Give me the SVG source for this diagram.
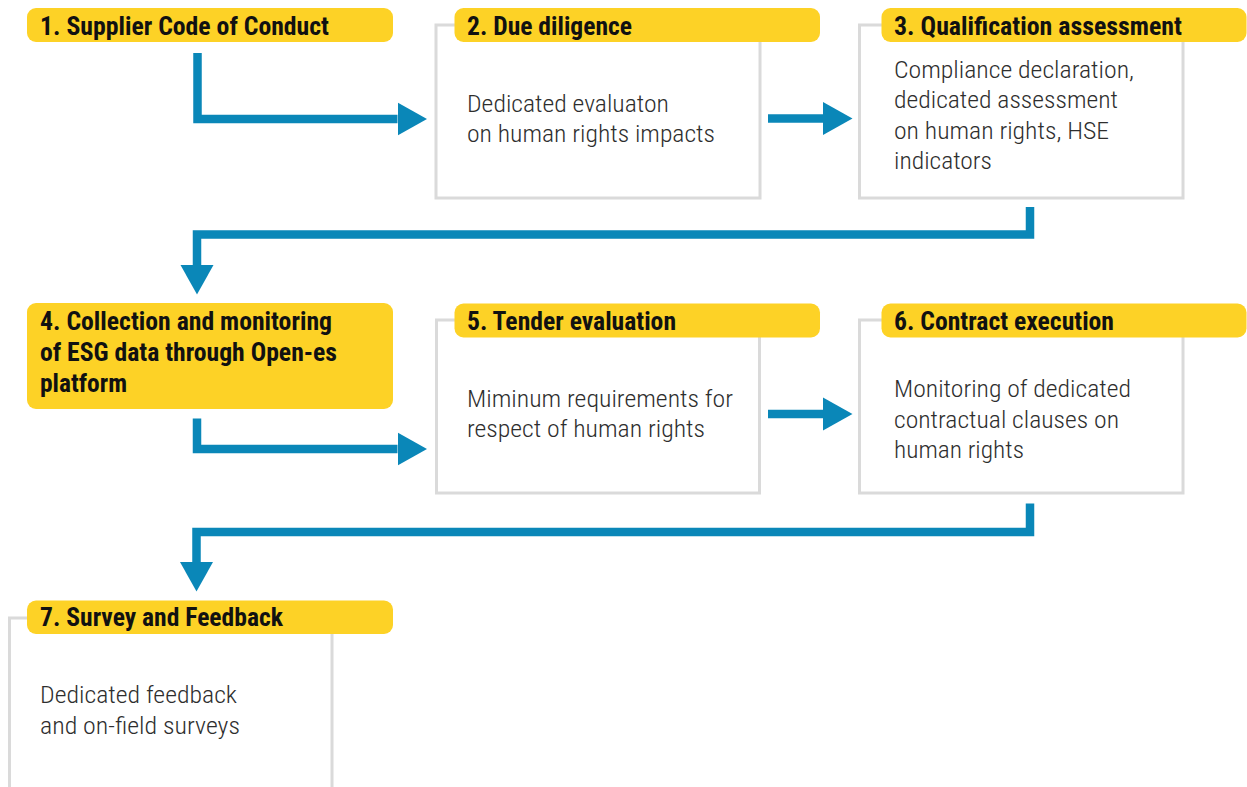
<svg xmlns="http://www.w3.org/2000/svg" width="1247" height="787" viewBox="0 0 1247 787">
  <style>
    .box { fill: #ffffff; stroke: #dadada; stroke-width: 3; }
    .hdr { fill: #fdd226; }
    .ht { font-family: "Roboto Condensed", Roboto, "Liberation Sans", sans-serif; font-weight: 700; font-size: 25px; fill: #111111; }
    .bt { font-family: "Roboto Condensed", Roboto, "Liberation Sans", sans-serif; font-weight: 300; font-size: 24px; fill: #2e2e2e; }
    .conn { fill: none; stroke: #0a87b8; stroke-width: 8.5; stroke-linejoin: miter; stroke-linecap: butt; }
  </style>
  <defs>
    <marker id="arrow" markerUnits="userSpaceOnUse" markerWidth="30" markerHeight="34" refX="0" refY="16.5" orient="auto" viewBox="0 0 30 33">
      <path d="M0,0 L29.5,16.5 L0,33 Z" fill="#0a87b8"/>
    </marker>
  </defs>
  <rect width="1247" height="787" fill="#ffffff"/>

  <g id="node1">
    <rect class="hdr" x="27" y="8" width="366" height="34" rx="9"/>
    <text class="ht" x="40" y="35" textLength="289" lengthAdjust="spacingAndGlyphs">1. Supplier Code of Conduct</text>
  </g>

  <g id="node2">
    <rect class="box" x="436" y="25" width="324" height="173"/>
    <rect class="hdr" x="454.5" y="8" width="365.5" height="34" rx="9"/>
    <text class="ht" x="467" y="35" textLength="165" lengthAdjust="spacingAndGlyphs">2. Due diligence</text>
    <text class="bt" x="467" y="112" textLength="202" lengthAdjust="spacingAndGlyphs">Dedicated evaluaton</text>
    <text class="bt" x="467" y="142" textLength="248" lengthAdjust="spacingAndGlyphs">on human rights impacts</text>
  </g>

  <g id="node3">
    <rect class="box" x="859.5" y="25" width="323.5" height="173"/>
    <rect class="hdr" x="881.5" y="8" width="365" height="34" rx="9"/>
    <text class="ht" x="894" y="35" textLength="288" lengthAdjust="spacingAndGlyphs">3. Qualification assessment</text>
    <text class="bt" x="894" y="78" textLength="240" lengthAdjust="spacingAndGlyphs">Compliance declaration,</text>
    <text class="bt" x="894" y="108" textLength="224" lengthAdjust="spacingAndGlyphs">dedicated assessment</text>
    <text class="bt" x="894" y="139" textLength="215" lengthAdjust="spacingAndGlyphs">on human rights, HSE</text>
    <text class="bt" x="894" y="169" textLength="98" lengthAdjust="spacingAndGlyphs">indicators</text>
  </g>

  <g id="node4">
    <rect class="hdr" x="27" y="303" width="366" height="106" rx="9"/>
    <text class="ht" x="40" y="330" textLength="292" lengthAdjust="spacingAndGlyphs">4. Collection and monitoring</text>
    <text class="ht" x="40" y="361" textLength="297" lengthAdjust="spacingAndGlyphs">of ESG data through Open-es</text>
    <text class="ht" x="40" y="392" textLength="87" lengthAdjust="spacingAndGlyphs">platform</text>
  </g>

  <g id="node5">
    <rect class="box" x="436.5" y="320" width="323" height="173"/>
    <rect class="hdr" x="454.5" y="303.5" width="365.5" height="34" rx="9"/>
    <text class="ht" x="467" y="329.5" textLength="209" lengthAdjust="spacingAndGlyphs">5. Tender evaluation</text>
    <text class="bt" x="467" y="406.5" textLength="266" lengthAdjust="spacingAndGlyphs">Miminum requirements for</text>
    <text class="bt" x="467" y="437" textLength="238" lengthAdjust="spacingAndGlyphs">respect of human rights</text>
  </g>

  <g id="node6">
    <rect class="box" x="859.5" y="320" width="323.5" height="173"/>
    <rect class="hdr" x="881.5" y="303.5" width="365" height="34" rx="9"/>
    <text class="ht" x="894" y="329.5" textLength="220" lengthAdjust="spacingAndGlyphs">6. Contract execution</text>
    <text class="bt" x="894" y="397" textLength="237" lengthAdjust="spacingAndGlyphs">Monitoring of dedicated</text>
    <text class="bt" x="894" y="427.5" textLength="225" lengthAdjust="spacingAndGlyphs">contractual clauses on</text>
    <text class="bt" x="894" y="458" textLength="130" lengthAdjust="spacingAndGlyphs">human rights</text>
  </g>

  <g id="node7">
    <rect class="box" x="9.5" y="618" width="322.5" height="190"/>
    <rect class="hdr" x="27" y="600.5" width="366" height="33.5" rx="9"/>
    <text class="ht" x="40" y="626" textLength="243" lengthAdjust="spacingAndGlyphs">7. Survey and Feedback</text>
    <text class="bt" x="40" y="703" textLength="197" lengthAdjust="spacingAndGlyphs">Dedicated feedback</text>
    <text class="bt" x="40" y="734" textLength="200" lengthAdjust="spacingAndGlyphs">and on-field surveys</text>
  </g>

  <g id="connectors">
    <path class="conn" d="M197.5,53 V119 H397.5" marker-end="url(#arrow)"/>
    <path class="conn" d="M768,118.5 H823" marker-end="url(#arrow)"/>
    <path class="conn" d="M1030,207 V234.5 H197 V265" marker-end="url(#arrow)"/>
    <path class="conn" d="M197,418.5 V449 H397.5" marker-end="url(#arrow)"/>
    <path class="conn" d="M768,414 H823" marker-end="url(#arrow)"/>
    <path class="conn" d="M1030,503.5 V532 H196.5 V562" marker-end="url(#arrow)"/>
  </g>
</svg>
